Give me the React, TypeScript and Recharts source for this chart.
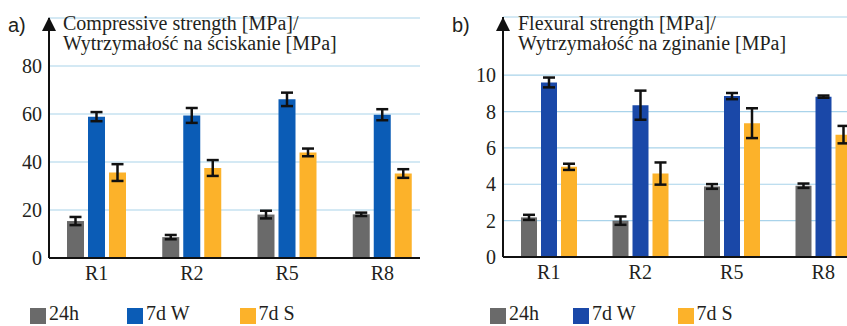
import { Bar, BarChart, CartesianGrid, ErrorBar, XAxis, YAxis } from "recharts";

const categories = ["R1", "R2", "R5", "R8"];
const seriesNames = ["24h", "7d W", "7d S"];

// compressive strength [MPa], mean and +/- deviation
const compressive24h = [15.4, 8.7, 18.1, 18.2];
const compressive24hErr = [1.7, 0.9, 1.6, 0.7];
const compressive7dW = [58.9, 59.4, 66.1, 59.7];
const compressive7dWErr = [1.9, 3.1, 2.8, 2.3];
const compressive7dS = [35.6, 37.5, 44.0, 35.2];
const compressive7dSErr = [3.5, 3.3, 1.6, 1.8];
const compressiveTicks = [0, 20, 40, 60, 80];

// flexural strength [MPa]
const flexural24h = [2.18, 2.0, 3.88, 3.92];
const flexural24hErr = [0.14, 0.23, 0.13, 0.12];
const flexural7dW = [9.6, 8.35, 8.85, 8.82];
const flexural7dWErr = [0.27, 0.8, 0.17, 0.06];
const flexural7dS = [4.96, 4.59, 7.36, 6.73];
const flexural7dSErr = [0.17, 0.61, 0.82, 0.48];
const flexuralTicks = [0, 2, 4, 6, 8, 10];

const GRAY = "#6a6a6a";
const BLUE_A = "#0b5cb6";
const BLUE_B = "#1a48a8";
const ORANGE = "#fcb22a";
const GRID = "#a9d3ea";
const INK = "#231f20";
const serif = "Liberation Serif, Tinos, DejaVu Serif, serif";
const sans = "Liberation Sans, Arimo, Arial, sans-serif";

function buildRows(a: number[], ae: number[], b: number[], be: number[], c: number[], ce: number[]) {
  return categories.map((name, i) => ({
    name,
    h24: a[i],
    h24Err: ae[i],
    dW: b[i],
    dWErr: be[i],
    dS: c[i],
    dSErr: ce[i],
  }));
}

const compressiveRows = buildRows(
  compressive24h, compressive24hErr,
  compressive7dW, compressive7dWErr,
  compressive7dS, compressive7dSErr,
);
const flexuralRows = buildRows(
  flexural24h, flexural24hErr,
  flexural7dW, flexural7dWErr,
  flexural7dS, flexural7dSErr,
);

const tickStyle = { fill: INK, fontSize: 20, fontFamily: serif };

function Panel({
  rows,
  ticks,
  domainMax,
  blue,
  yWidth,
  plotWidth,
  top,
  barSize,
}: {
  rows: ReturnType<typeof buildRows>;
  ticks: number[];
  domainMax: number;
  blue: string;
  yWidth: number;
  plotWidth: number;
  top: number;
  barSize: number;
}) {
  const err = (key: string) => (
    <ErrorBar dataKey={key} width={6} stroke="#111" strokeWidth={2.5} direction="y" />
  );
  return (
    <BarChart
      width={440}
      height={300}
      data={rows}
      margin={{ top, right: 440 - yWidth - plotWidth, bottom: 0, left: 0 }}
      barSize={barSize}
      barGap={4}
    >
      <CartesianGrid horizontal vertical={false} stroke={GRID} strokeWidth={1.2} />
      <XAxis
        dataKey="name"
        axisLine={{ stroke: "#111", strokeWidth: 2 }}
        tickLine={false}
        tickSize={0}
        tickMargin={8}
        height={300 - top - 240}
        tick={tickStyle}
      />
      <YAxis
        type="number"
        domain={[0, domainMax]}
        ticks={ticks}
        interval={0}
        width={yWidth}
        axisLine={{ stroke: "#111", strokeWidth: 2 }}
        tickLine={false}
        tickSize={0}
        tickMargin={7}
        tick={tickStyle}
      />
      <Bar dataKey="h24" name={seriesNames[0]} fill={GRAY} isAnimationActive={false}>
        {err("h24Err")}
      </Bar>
      <Bar dataKey="dW" name={seriesNames[1]} fill={blue} isAnimationActive={false}>
        {err("dWErr")}
      </Bar>
      <Bar dataKey="dS" name={seriesNames[2]} fill={ORANGE} isAnimationActive={false}>
        {err("dSErr")}
      </Bar>
    </BarChart>
  );
}

function Arrow({ x }: { x: number }) {
  return (
    <svg style={{ position: "absolute", left: x - 8, top: 14, width: 16, height: 18 }}>
      <polygon points="1,17 15,17 8,3" fill="#111" />
    </svg>
  );
}

function Legend({ left, gaps, blue }: { left: number; gaps: number[]; blue: string }) {
  const colors = [GRAY, blue, ORANGE];
  return (
    <div style={{ position: "absolute", left, top: 305, display: "flex" }}>
      {seriesNames.map((s, i) => (
        <div key={s} style={{ display: "flex", alignItems: "flex-start", marginLeft: i ? gaps[i - 1] : 0 }}>
          <div style={{ width: 16, height: 16, marginTop: 3, background: colors[i] }} />
          <span style={{ marginLeft: 3, fontFamily: serif, fontSize: 20, lineHeight: "16px", color: INK }}>{s}</span>
        </div>
      ))}
    </div>
  );
}

function Title({ left, lines }: { left: number; lines: string[] }) {
  return (
    <div
      style={{
        position: "absolute",
        left,
        top: 13,
        fontFamily: serif,
        fontSize: 20,
        lineHeight: "20px",
        color: INK,
        whiteSpace: "nowrap",
      }}
    >
      {lines.map((l) => (
        <div key={l}>{l}</div>
      ))}
    </div>
  );
}

export default function App() {
  return (
    <div
      style={{
        position: "absolute",
        left: 0,
        top: 0,
        width: 847,
        height: 326,
        overflow: "hidden",
        background: "#fff",
      }}
    >
      <div style={{ position: "absolute", left: 0, top: 0, width: 420, height: 300, overflow: "hidden" }}>
        <Panel rows={compressiveRows} ticks={compressiveTicks} domainMax={100} blue={BLUE_A} yWidth={49} plotWidth={381} top={18} barSize={17} />
      </div>
      <div style={{ position: "absolute", left: 440, top: 0, width: 440, height: 300 }}>
        <Panel rows={flexuralRows} ticks={flexuralTicks} domainMax={13.2} blue={BLUE_B} yWidth={63} plotWidth={366} top={17} barSize={16} />
      </div>

      <Arrow x={49} />
      <Arrow x={503} />
      <div style={{ position: "absolute", left: 8, top: 14, fontFamily: sans, fontSize: 20, color: INK }}>a)</div>
      <div style={{ position: "absolute", left: 452, top: 14, fontFamily: sans, fontSize: 20, color: INK }}>b)</div>
      <Title left={63} lines={["Compressive strength [MPa]/", "Wytrzymałość na ściskanie [MPa]"]} />
      <Title left={518} lines={["Flexural strength [MPa]/", "Wytrzymałość na zginanie [MPa]"]} />

      <Legend left={30} gaps={[48, 50]} blue={BLUE_A} />
      <Legend left={490} gaps={[34, 42]} blue={BLUE_B} />
    </div>
  );
}
